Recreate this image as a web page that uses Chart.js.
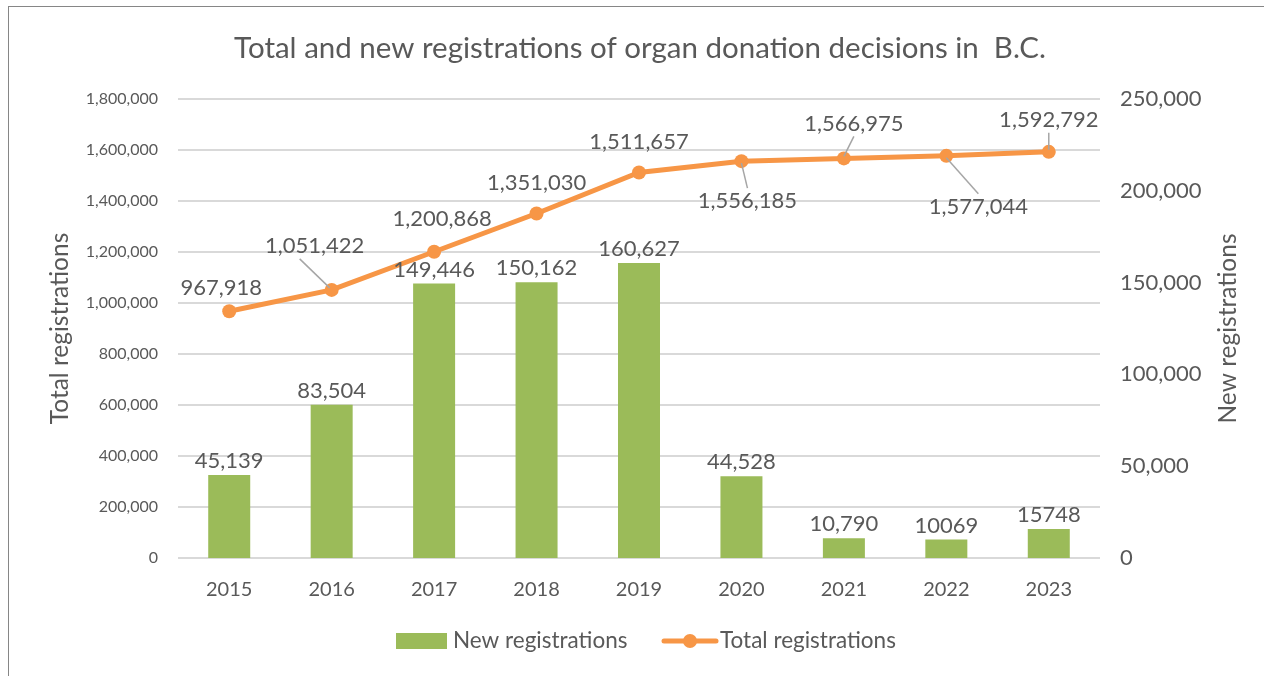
<!DOCTYPE html>
<html>
<head>
<meta charset="utf-8">
<script src="https://cdn.jsdelivr.net/npm/chart.js@4.4.1/dist/chart.umd.min.js"></script>
<style>
  html, body { margin: 0; padding: 0; background: #ffffff; overflow: hidden; }
  #wrap { position: relative; width: 1264px; height: 676px; }
</style>
</head>
<body>
<div id="wrap"><canvas id="c" width="1264" height="676"></canvas></div>
<script>
// ---- data ----
const titleText = 'Total and new registrations of organ donation decisions in  B.C.';
const years = ['2015', '2016', '2017', '2018', '2019', '2020', '2021', '2022', '2023'];
const newRegistrations = [45139, 83504, 149446, 150162, 160627, 44528, 10790, 10069, 15748];
const newRegistrationLabels = ['45,139', '83,504', '149,446', '150,162', '160,627', '44,528', '10,790', '10069', '15748'];
const totalRegistrations = [967918, 1051422, 1200868, 1351030, 1511657, 1556185, 1566975, 1577044, 1592792];
const totalRegistrationLabels = ['967,918', '1,051,422', '1,200,868', '1,351,030', '1,511,657', '1,556,185', '1,566,975', '1,577,044', '1,592,792'];
const seriesNames = ['New registrations', 'Total registrations'];
const axisTitles = ['Total registrations', 'New registrations'];
const leftAxisMax = 1800000, leftAxisStep = 200000;
const rightAxisMax = 250000, rightAxisStep = 50000;

// ---- styles ----
const FONT = 'Lato, "Open Sans", sans-serif';
const TEXT = '#595959';
const GREEN = '#9BBB59';
const ORANGE = '#F79646';
const GRID = '#D9D9D9';
const LEADER = '#A6A6A6';

// label placement for line values: [dx, dy] of label centre from point, and leader flag
const lineLabelOffsets = [
  [-8, -23, false], [-17, -44, true], [8, -33, false], [0, -31, false], [0, -31, false],
  [6, 40, true], [10, -35, true], [32, 51, true], [0, -32, true]
];

const fmt = v => v.toLocaleString('en-US');

const decor = {
  id: 'decor',
  beforeDraw(chart) {
    const ctx = chart.ctx;
    ctx.save();
    ctx.fillStyle = '#fff';
    ctx.fillRect(0, 0, chart.width, chart.height);
    ctx.strokeStyle = '#868686';
    ctx.lineWidth = 1;
    ctx.strokeRect(8.5, 6.5, 1400, 800);
    ctx.restore();
  },
  afterDatasetsDraw(chart) {
    const ctx = chart.ctx;
    const barMeta = chart.getDatasetMeta(1);
    const lineMeta = chart.getDatasetMeta(0);
    ctx.save();
    ctx.font = '22px ' + FONT;
    ctx.fillStyle = TEXT;
    ctx.textAlign = 'center';
    ctx.textBaseline = 'middle';
    barMeta.data.forEach((el, i) => {
      ctx.fillText(newRegistrationLabels[i], el.x, el.y - 14);
    });
    lineMeta.data.forEach((el, i) => {
      const [dx, dy, leader] = lineLabelOffsets[i];
      const lx = el.x + dx, ly = el.y + dy;
      if (leader) {
        ctx.strokeStyle = LEADER;
        ctx.lineWidth = 1.5;
        ctx.beginPath();
        const sy = dy < 0 ? ly + 13 : ly - 13;
        let sx = lx;
        if (i === 1) sx = lx - 15;
        ctx.moveTo(sx, sy);
        ctx.lineTo(el.x - (i === 1 ? 2 : 0), el.y + (dy < 0 ? -2 : 2));
        ctx.stroke();
      }
      ctx.fillText(totalRegistrationLabels[i], lx, ly);
    });
    ctx.restore();
  },
  afterDraw(chart) {
    const ctx = chart.ctx;
    const ca = chart.chartArea;
    ctx.save();
    ctx.fillStyle = TEXT;
    ctx.textBaseline = 'middle';
    ctx.textAlign = 'center';
    ctx.font = '29.5px ' + FONT;
    ctx.fillText(titleText, 640, 48);
    // axis titles
    ctx.font = '24.5px ' + FONT;
    const cy = (ca.top + ca.bottom) / 2;
    ctx.save();
    ctx.translate(60, cy);
    ctx.rotate(-Math.PI / 2);
    ctx.fillText(axisTitles[0], 0, 0);
    ctx.restore();
    ctx.save();
    ctx.translate(1228, cy);
    ctx.rotate(-Math.PI / 2);
    ctx.fillText(axisTitles[1], 0, 0);
    ctx.restore();
    // legend
    const ly = 641;
    ctx.font = '22.5px ' + FONT;
    ctx.textAlign = 'left';
    ctx.fillStyle = GREEN;
    ctx.fillRect(396, ly - 8, 51, 16);
    ctx.fillStyle = TEXT;
    ctx.fillText(seriesNames[0], 453, ly);
    ctx.strokeStyle = ORANGE;
    ctx.lineWidth = 5;
    ctx.lineCap = 'round';
    ctx.beginPath();
    ctx.moveTo(664, ly);
    ctx.lineTo(716, ly);
    ctx.stroke();
    ctx.fillStyle = ORANGE;
    ctx.beginPath();
    ctx.arc(690, ly, 7, 0, Math.PI * 2);
    ctx.fill();
    ctx.fillStyle = TEXT;
    ctx.fillText(seriesNames[1], 720, ly);
    ctx.restore();
  }
};

new Chart(document.getElementById('c'), {
  data: {
    labels: years,
    datasets: [
      {
        type: 'line',
        label: seriesNames[1],
        data: totalRegistrations,
        yAxisID: 'y',
        borderColor: ORANGE,
        backgroundColor: ORANGE,
        borderWidth: 5,
        pointRadius: 7,
        pointHoverRadius: 7,
        pointBackgroundColor: ORANGE,
        pointBorderWidth: 0,
        tension: 0,
        order: 0
      },
      {
        type: 'bar',
        label: seriesNames[0],
        data: newRegistrations,
        yAxisID: 'y1',
        backgroundColor: GREEN,
        borderWidth: 0,
        categoryPercentage: 1,
        barPercentage: 0.41,
        order: 1
      }
    ]
  },
  options: {
    responsive: false,
    animation: false,
    events: [],
    layout: { padding: { top: 99, bottom: 0, left: 0, right: 0 } },
    plugins: { legend: { display: false }, title: { display: false }, tooltip: { enabled: false } },
    scales: {
      x: {
        grid: { display: false, drawTicks: false },
        border: { display: false },
        ticks: { color: TEXT, font: { family: FONT, size: 20 }, padding: 20, maxRotation: 0 },
        afterFit(s) { s.height = 118; }
      },
      y: {
        position: 'left',
        min: 0, max: leftAxisMax,
        ticks: { stepSize: leftAxisStep, color: TEXT, font: { family: FONT, size: 16 }, padding: 20, callback: v => fmt(v) },
        grid: { color: GRID, lineWidth: 2, drawTicks: false },
        border: { display: false },
        afterFit(s) { s.width = 178; }
      },
      y1: {
        position: 'right',
        min: 0, max: rightAxisMax,
        ticks: { stepSize: rightAxisStep, color: TEXT, font: { family: FONT, size: 22 }, padding: 20, callback: v => fmt(v) },
        grid: { display: false, drawTicks: false },
        border: { display: false },
        afterFit(s) { s.width = 164; }
      }
    }
  },
  plugins: [decor]
});
</script>
</body>
</html>
